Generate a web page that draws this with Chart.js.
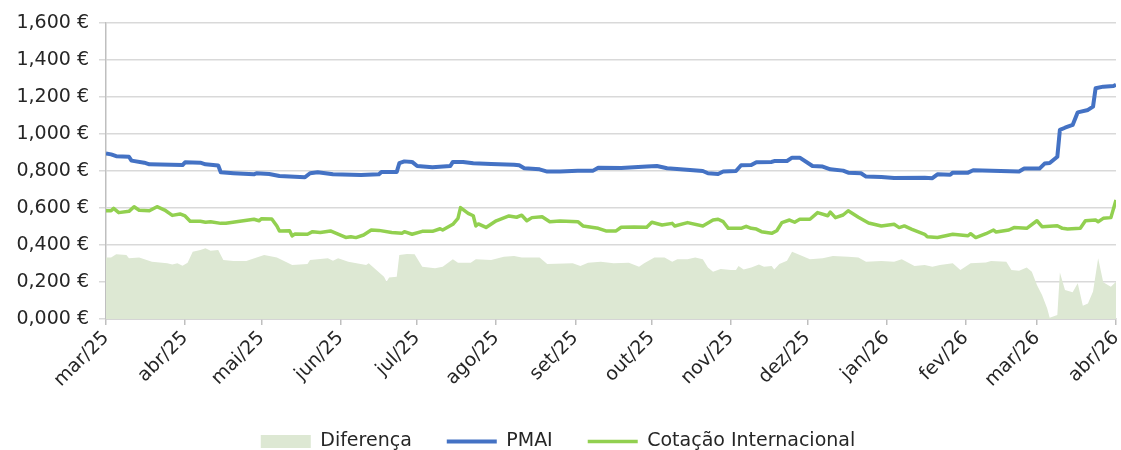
<!DOCTYPE html>
<html lang="pt">
<head>
<meta charset="utf-8">
<title>PMAI vs Cotação Internacional</title>
<script src="https://cdn.jsdelivr.net/npm/chart.js@4.4.1/dist/chart.umd.min.js"></script>
<style>
    html, body { margin: 0; padding: 0; background: #fff; }
    #wrap { width: 1121px; height: 450px; }
</style>
</head>
<body>
<div id="wrap"><canvas id="chart"></canvas></div>
<script>
// --- DATA (dias contados a partir de 1/mar/25) ---

const monthLabels = ['mar/25', 'abr/25', 'mai/25', 'jun/25', 'jul/25', 'ago/25', 'set/25',
    'out/25', 'nov/25', 'dez/25', 'jan/26', 'fev/26', 'mar/26', 'abr/26'];
const monthDays = [0, 31, 61, 92, 122, 153, 184, 214, 245, 275, 306, 337, 365, 396];

const yTicks = [0, 0.2, 0.4, 0.6, 0.8, 1.0, 1.2, 1.4, 1.6];

const pmaiDays = [0, 2, 4, 9, 10, 15, 17, 30, 31, 37, 39, 44, 45, 50, 58, 59, 64, 68, 78, 80,
    83, 89, 100, 107, 108, 114, 115, 117, 120, 122, 128, 135, 136, 140, 144, 151, 160, 162, 164, 170,
    173, 178, 185, 191, 193, 202, 212, 216, 220, 229, 234, 236, 240, 242, 247, 249, 253, 255, 261, 262,
    267, 269, 272, 277, 281, 284, 289, 291, 296, 298, 304, 309, 321, 324, 326, 331, 332, 338, 340, 358,
    360, 366, 368, 370, 373, 374, 376, 379, 381, 385, 387, 388, 391, 395, 396];
const pmaiValues = [0.895, 0.890, 0.880, 0.877, 0.856, 0.845, 0.836, 0.832, 0.847, 0.845, 0.836, 0.830, 0.793, 0.788, 0.782, 0.788, 0.784, 0.773, 0.766, 0.788,
    0.793, 0.782, 0.778, 0.782, 0.795, 0.795, 0.842, 0.852, 0.849, 0.827, 0.820, 0.827, 0.849, 0.849, 0.842, 0.838, 0.834, 0.831, 0.815, 0.809,
    0.797, 0.797, 0.802, 0.802, 0.818, 0.816, 0.824, 0.827, 0.815, 0.805, 0.800, 0.788, 0.784, 0.797, 0.800, 0.831, 0.832, 0.847, 0.849, 0.854,
    0.854, 0.872, 0.872, 0.827, 0.824, 0.809, 0.802, 0.791, 0.788, 0.770, 0.768, 0.762, 0.764, 0.761, 0.782, 0.780, 0.791, 0.791, 0.804, 0.797,
    0.813, 0.813, 0.840, 0.843, 0.877, 1.022, 1.034, 1.049, 1.117, 1.130, 1.148, 1.247, 1.256, 1.259, 1.266];

const cotDays = [0, 2, 3, 5, 9, 11, 13, 17, 20, 23, 26, 29, 31, 33, 37, 39, 41, 45, 47, 58,
    60, 61, 65, 67, 68, 72, 73, 74, 79, 81, 84, 88, 91, 94, 96, 98, 101, 104, 107, 112,
    116, 117, 120, 124, 128, 131, 132, 136, 138, 139, 142, 144, 145, 146, 149, 153, 158, 161, 163, 165,
    167, 171, 174, 178, 185, 187, 193, 196, 200, 202, 207, 212, 214, 218, 222, 223, 228, 234, 238, 240,
    242, 244, 249, 251, 253, 255, 257, 261, 263, 265, 268, 270, 272, 276, 279, 283, 284, 286, 289, 291,
    295, 299, 304, 309, 311, 313, 316, 321, 322, 326, 332, 338, 339, 341, 345, 348, 349, 354, 356, 361,
    365, 367, 373, 375, 377, 382, 384, 388, 389, 391, 394, 396];
const cotValues = [0.585, 0.585, 0.598, 0.575, 0.582, 0.607, 0.588, 0.585, 0.607, 0.589, 0.560, 0.568, 0.557, 0.528, 0.528, 0.523, 0.526, 0.517, 0.517, 0.539,
    0.531, 0.542, 0.541, 0.503, 0.476, 0.477, 0.449, 0.459, 0.458, 0.472, 0.468, 0.476, 0.459, 0.441, 0.445, 0.440, 0.454, 0.481, 0.479, 0.468,
    0.463, 0.472, 0.458, 0.474, 0.474, 0.488, 0.481, 0.512, 0.544, 0.602, 0.571, 0.558, 0.503, 0.514, 0.495, 0.531, 0.557, 0.550, 0.561, 0.531,
    0.548, 0.553, 0.526, 0.530, 0.526, 0.503, 0.490, 0.476, 0.476, 0.496, 0.497, 0.496, 0.523, 0.508, 0.517, 0.503, 0.521, 0.503, 0.535, 0.539,
    0.526, 0.490, 0.490, 0.501, 0.490, 0.486, 0.472, 0.463, 0.477, 0.521, 0.535, 0.523, 0.539, 0.539, 0.575, 0.558, 0.578, 0.548, 0.562, 0.585,
    0.550, 0.519, 0.503, 0.512, 0.494, 0.503, 0.485, 0.458, 0.445, 0.441, 0.458, 0.450, 0.461, 0.440, 0.461, 0.481, 0.470, 0.481, 0.494, 0.490,
    0.531, 0.499, 0.504, 0.490, 0.486, 0.490, 0.531, 0.535, 0.526, 0.544, 0.548, 0.643];

const difDays = [0, 2, 4, 8, 9, 13, 18, 24, 26, 28, 30, 32, 34, 37, 39, 41, 44, 46, 50, 55,
    62, 67, 73, 79, 80, 87, 89, 91, 95, 102, 103, 106, 109, 110, 111, 114, 115, 118, 121, 124,
    129, 132, 136, 138, 143, 145, 151, 156, 160, 163, 170, 173, 183, 186, 189, 194, 199, 205, 209, 211,
    215, 219, 222, 224, 228, 231, 234, 236, 238, 241, 245, 247, 248, 250, 253, 256, 258, 261, 262, 264,
    267, 269, 273, 276, 281, 285, 291, 295, 298, 304, 309, 312, 317, 321, 324, 327, 332, 335, 339, 345,
    347, 353, 355, 358, 361, 363, 365, 367, 369, 370, 373, 374, 376, 379, 381, 383, 385, 387, 389, 391,
    394, 396];
const difValues = [0.333, 0.333, 0.350, 0.346, 0.328, 0.333, 0.310, 0.301, 0.294, 0.301, 0.288, 0.304, 0.364, 0.373, 0.382, 0.369, 0.373, 0.319, 0.314, 0.314,
    0.346, 0.333, 0.292, 0.297, 0.319, 0.328, 0.315, 0.328, 0.310, 0.292, 0.301, 0.265, 0.229, 0.202, 0.225, 0.229, 0.346, 0.351, 0.350, 0.283,
    0.274, 0.283, 0.323, 0.304, 0.304, 0.323, 0.319, 0.337, 0.341, 0.333, 0.333, 0.297, 0.301, 0.286, 0.304, 0.310, 0.301, 0.304, 0.283, 0.301,
    0.333, 0.333, 0.310, 0.323, 0.323, 0.333, 0.323, 0.279, 0.256, 0.270, 0.265, 0.265, 0.286, 0.268, 0.279, 0.295, 0.283, 0.286, 0.268, 0.297,
    0.315, 0.364, 0.341, 0.323, 0.328, 0.341, 0.337, 0.333, 0.310, 0.314, 0.310, 0.323, 0.286, 0.292, 0.283, 0.292, 0.301, 0.265, 0.301, 0.306,
    0.314, 0.310, 0.265, 0.261, 0.279, 0.256, 0.184, 0.130, 0.058, 0.007, 0.022, 0.252, 0.157, 0.144, 0.193, 0.072, 0.084, 0.148, 0.328, 0.198,
    0.175, 0.202];

// --- HELPERS ---

const toPoints = (days, values) => days.map((d, i) => ({ x: d, y: values[i] }));
const fmtEuro = v => v.toFixed(3).replace('.', ',') + ' €';

const FONT = { family: '"DejaVu Sans", Lato, sans-serif', size: 19 };
const TEXT = '#262626';

// --- CHART ---

Chart.defaults.font.family = FONT.family;
Chart.defaults.color = TEXT;

new Chart(document.getElementById('chart'), {
    type: 'line',
    data: {
        datasets: [
            {
                label: 'Diferença',
                data: toPoints(difDays, difValues),
                backgroundColor: '#dde8d3',
                borderWidth: 0,
                fill: 'origin',
                pointRadius: 0,
                pointStyle: 'rect',
                pointBackgroundColor: '#dde8d3',
                pointBorderColor: '#dde8d3',
                pointBorderWidth: 0
            },
            {
                label: 'PMAI',
                data: toPoints(pmaiDays, pmaiValues),
                borderColor: '#4472c4',
                backgroundColor: '#4472c4',
                borderWidth: 4,
                borderJoinStyle: 'round',
                fill: false,
                pointRadius: 0,
                pointStyle: 'line',
                pointBorderColor: '#4472c4',
                pointBorderWidth: 4
            },
            {
                label: 'Cotação Internacional',
                data: toPoints(cotDays, cotValues),
                borderColor: '#92d050',
                backgroundColor: '#92d050',
                borderWidth: 3.5,
                borderJoinStyle: 'round',
                fill: false,
                pointRadius: 0,
                pointStyle: 'line',
                pointBorderColor: '#92d050',
                pointBorderWidth: 3.5
            }
        ]
    },
    options: {
        responsive: true,
        maintainAspectRatio: false,
        animation: false,
        layout: { padding: { top: 23, right: 5, left: 0, bottom: 0 } },
        plugins: {
            tooltip: { enabled: false },
            legend: {
                position: 'bottom',
                maxHeight: 53,
                labels: {
                    usePointStyle: true,
                    pointStyleWidth: 50,
                    boxHeight: 13,
                    padding: 35,
                    color: TEXT,
                    font: FONT
                }
            }
        },
        scales: {
            x: {
                type: 'linear',
                min: monthDays[0],
                max: monthDays[monthDays.length - 1],
                afterBuildTicks: scale => { scale.ticks = monthDays.map(v => ({ value: v })); },
                afterFit: scale => { scale.height = 78; scale.paddingRight = 0; },
                border: { color: '#bfbfbf', width: 1.5 },
                grid: { drawOnChartArea: false, drawTicks: true, tickLength: 6, color: '#bfbfbf', lineWidth: 1.5 },
                ticks: {
                    autoSkip: false,
                    minRotation: 45,
                    maxRotation: 45,
                    padding: 2,
                    color: TEXT,
                    font: FONT,
                    callback: value => monthLabels[monthDays.indexOf(value)]
                }
            },
            y: {
                min: 0,
                max: 1.6,
                afterBuildTicks: scale => { scale.ticks = yTicks.map(v => ({ value: v })); },
                afterFit: scale => { scale.width = 106; },
                border: { color: '#bfbfbf', width: 1.5 },
                grid: { color: '#d9d9d9', lineWidth: 1.5, tickLength: 7 },
                ticks: {
                    padding: 10,
                    color: TEXT,
                    font: FONT,
                    callback: value => fmtEuro(value)
                }
            }
        }
    }
});
</script>
</body>
</html>
